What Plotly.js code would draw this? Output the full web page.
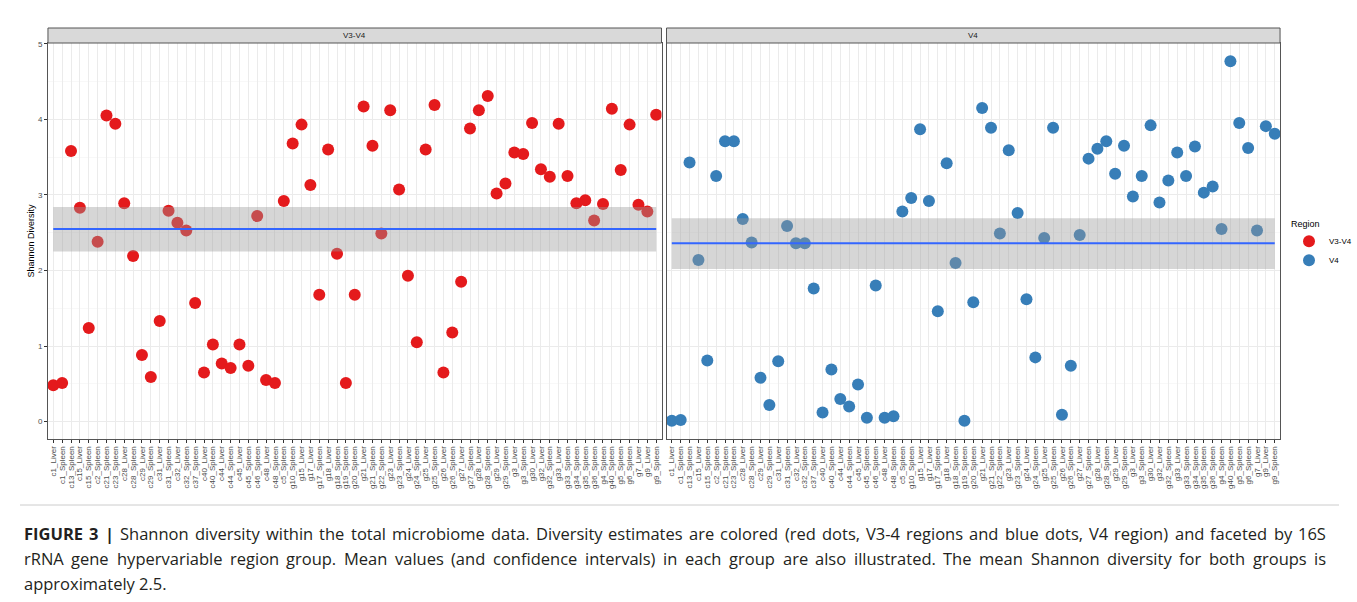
<!DOCTYPE html>
<html><head><meta charset="utf-8">
<script src="https://cdn.plot.ly/plotly-3.0.1.min.js"></script>
<style>html,body{margin:0;padding:0;background:#fff}#chart{width:1357px;height:602px}</style>
</head><body><div id="chart"></div>
<script>
const samples = ['c1_Liver','c1_Spleen','c13_Spleen','c15_Liver','c15_Spleen','c2_Spleen','c21_Spleen','c23_Spleen','c28_Liver','c28_Spleen','c29_Liver','c29_Spleen','c31_Liver','c31_Spleen','c32_Liver','c32_Spleen','c37_Spleen','c40_Liver','c40_Spleen','c44_Liver','c44_Spleen','c45_Liver','c45_Spleen','c46_Spleen','c48_Liver','c48_Spleen','c5_Spleen','g10_Spleen','g15_Liver','g17_Liver','g17_Spleen','g18_Liver','g18_Spleen','g19_Spleen','g20_Spleen','g21_Liver','g21_Spleen','g22_Spleen','g23_Liver','g23_Spleen','g24_Liver','g24_Spleen','g25_Liver','g25_Spleen','g26_Liver','g26_Spleen','g27_Liver','g27_Spleen','g28_Liver','g28_Spleen','g29_Liver','g29_Spleen','g3_Liver','g3_Spleen','g30_Liver','g32_Liver','g32_Spleen','g33_Liver','g33_Spleen','g34_Spleen','g35_Spleen','g36_Spleen','g4_Spleen','g40_Spleen','g5_Spleen','g6_Spleen','g7_Liver','g9_Liver','g9_Spleen'];

const shannonV3V4 = [0.48,0.51,3.58,2.83,1.24,2.38,4.05,3.94,2.89,2.19,0.88,0.59,1.33,2.79,2.63,2.53,1.57,0.65,1.02,0.77,0.71,1.02,0.74,2.72,0.55,0.51,2.92,3.68,3.93,3.13,1.68,3.60,2.22,0.51,1.68,4.17,3.65,2.49,4.12,3.07,1.93,1.05,3.60,4.19,0.65,1.18,1.85,3.88,4.12,4.31,3.02,3.15,3.56,3.54,3.95,3.34,3.24,3.94,3.25,2.89,2.93,2.66,2.88,4.14,3.33,3.93,2.87,2.78,4.06];

const shannonV4 = [0.01,0.02,3.43,2.14,0.81,3.25,3.71,3.71,2.68,2.37,0.58,0.22,0.80,2.59,2.36,2.36,1.76,0.12,0.69,0.30,0.20,0.49,0.05,1.80,0.05,0.07,2.78,2.96,3.87,2.92,1.46,3.42,2.10,0.01,1.58,4.15,3.89,2.49,3.59,2.76,1.62,0.85,2.43,3.89,0.09,0.74,2.47,3.48,3.61,3.71,3.28,3.65,2.98,3.25,3.92,2.90,3.19,3.56,3.25,3.64,3.03,3.11,2.55,4.77,3.95,3.62,2.53,3.91,3.81];

const regions = ['V3-V4','V4'];
const regionColors = ['#E41A1C','#377EB8'];
const regionMean = [2.55, 2.36];
const regionLower = [2.25, 2.02];
const regionUpper = [2.84, 2.69];

const captionLabel = 'FIGURE 3 |';
const captionLines = [
  'Shannon diversity within the total microbiome data. Diversity estimates are colored (red dots, V3-4 regions and blue dots, V4 region) and faceted by 16S',
  'rRNA gene hypervariable region group. Mean values (and confidence intervals) in each group are also illustrated. The mean Shannon diversity for both groups is',
  'approximately 2.5.'
];

const W = 1357, H = 602;
const px = v => v / W, py = v => 1 - v / H;
const panelX = [[48, 662], [667, 1281]];
const panelTop = 43, panelBottom = 439, stripTop = 28;

const series = [shannonV3V4, shannonV4];
const traces = [];
regions.forEach((r, i) => {
  const xa = i === 0 ? 'x' : 'x2', ya = i === 0 ? 'y' : 'y2';
  const ends = [samples[0], samples[samples.length - 1]];
  traces.push({type:'scatter', mode:'markers', x:samples, y:series[i], xaxis:xa, yaxis:ya,
    name:r, legendgroup:r, showlegend:true,
    marker:{size:12, color:regionColors[i], line:{width:0}}});
  traces.push({type:'scatter', mode:'lines', x:ends, y:[regionLower[i], regionLower[i]], xaxis:xa, yaxis:ya,
    line:{width:0, color:'rgba(0,0,0,0)'}, showlegend:false, hoverinfo:'skip'});
  traces.push({type:'scatter', mode:'lines', x:ends, y:[regionUpper[i], regionUpper[i]], xaxis:xa, yaxis:ya,
    fill:'tonexty', fillcolor:'rgba(153,153,153,0.4)', line:{width:0, color:'rgba(0,0,0,0)'},
    showlegend:false, hoverinfo:'skip'});
  traces.push({type:'scatter', mode:'lines', x:ends, y:[regionMean[i], regionMean[i]], xaxis:xa, yaxis:ya,
    line:{width:2, color:'#3366FF'}, showlegend:false, hoverinfo:'skip'});
});

const border = '#555555';
const xBase = d => ({domain:[px(d[0]), px(d[1])], type:'category', categoryorder:'array', categoryarray:samples,
  range:[-0.6, samples.length - 0.4], tickmode:'linear', tick0:0, dtick:1, tickangle:-90,
  tickfont:{size:8, color:'#4d4d4d', family:'Liberation Sans, Arial, sans-serif'},
  ticks:'outside', ticklen:3, tickcolor:'#333', showgrid:true, gridcolor:'#ebebeb', gridwidth:1,
  showline:true, mirror:true, linecolor:border, linewidth:1, zeroline:false, automargin:false, fixedrange:true});
const yBase = {domain:[py(panelBottom), py(panelTop)], range:[-0.23, 5.01], tick0:0, dtick:1,
  tickfont:{size:8, color:'#4d4d4d', family:'Liberation Sans, Arial, sans-serif'},
  ticks:'outside', ticklen:3, tickcolor:'#333', showgrid:true, gridcolor:'#ebebeb', gridwidth:1,
  minor:{dtick:0.5, showgrid:true, gridcolor:'#f4f4f4', gridwidth:0.6},
  showline:true, mirror:true, linecolor:border, linewidth:1, zeroline:false, automargin:false, fixedrange:true};

const layout = {
  width:W, height:H, margin:{l:0, r:0, t:0, b:0}, paper_bgcolor:'#fff', plot_bgcolor:'#fff',
  font:{family:'Liberation Sans, Arial, sans-serif', color:'#000'},
  xaxis: Object.assign(xBase(panelX[0]), {anchor:'y'}),
  xaxis2: Object.assign(xBase(panelX[1]), {anchor:'y2'}),
  yaxis: Object.assign({}, yBase, {anchor:'x', title:{text:'Shannon Diversity', font:{size:9, color:'#000'}, standoff:1}}),
  yaxis2: Object.assign({}, yBase, {anchor:'x2', showticklabels:false, ticks:''}),
  showlegend:true,
  legend:{x:px(1290), y:py(215), xanchor:'left', yanchor:'top', bgcolor:'rgba(0,0,0,0)',
    title:{text:'Region', font:{size:9, color:'#000'}}, font:{size:8, color:'#000'}, itemsizing:'constant', tracegroupgap:0},
  shapes: [], annotations: []
};
regions.forEach((r, i) => {
  layout.shapes.push({type:'rect', xref:'paper', yref:'paper', x0:px(panelX[i][0]), x1:px(panelX[i][1]),
    y0:py(panelTop), y1:py(stripTop), fillcolor:'#d9d9d9', line:{color:border, width:1}, layer:'above'});
  layout.annotations.push({xref:'paper', yref:'paper', x:px((panelX[i][0] + panelX[i][1]) / 2), y:py((panelTop + stripTop) / 2),
    text:r, showarrow:false, font:{size:8, color:'#1a1a1a'}, xanchor:'center', yanchor:'middle'});
});
layout.shapes.push({type:'line', xref:'paper', yref:'paper', x0:px(20), x1:px(1340), y0:py(505), y1:py(505), line:{color:'#cccccc', width:1}});

// caption: justified lines (word placement measured with canvas)
const capSize = 16.5, capLeft = 23, capRight = 1326, capColor = '#231f20';
const ctx = document.createElement('canvas').getContext('2d');
const measure = (t, bold) => { ctx.font = (bold ? 'bold ' : '') + capSize + 'px "Open Sans"'; return ctx.measureText(t).width; };
captionLines.forEach((line, k) => {
  const y = py(533 + 25 * k);
  const tokens = [];
  if (k === 0) captionLabel.split(' ').forEach(w => tokens.push({t:w, b:true}));
  line.split(' ').forEach(w => tokens.push({t:w, b:false}));
  const justify = k < captionLines.length - 1;
  const widths = tokens.map(o => measure(o.t, o.b));
  const total = widths.reduce((a, b) => a + b, 0);
  const gap = justify ? (capRight - capLeft - total) / (tokens.length - 1) : measure(' ', false);
  let x = capLeft;
  tokens.forEach((o, j) => {
    layout.annotations.push({xref:'paper', yref:'paper', x:px(x - 1), y:y, text:o.b ? '<b>' + o.t + '</b>' : o.t,
      showarrow:false, xanchor:'left', yanchor:'middle', align:'left',
      font:{size:capSize, color:capColor, family:'Open Sans, sans-serif'}});
    x += widths[j] + gap;
  });
});

Plotly.newPlot('chart', traces, layout, {displayModeBar:false, staticPlot:true});
</script></body></html>
